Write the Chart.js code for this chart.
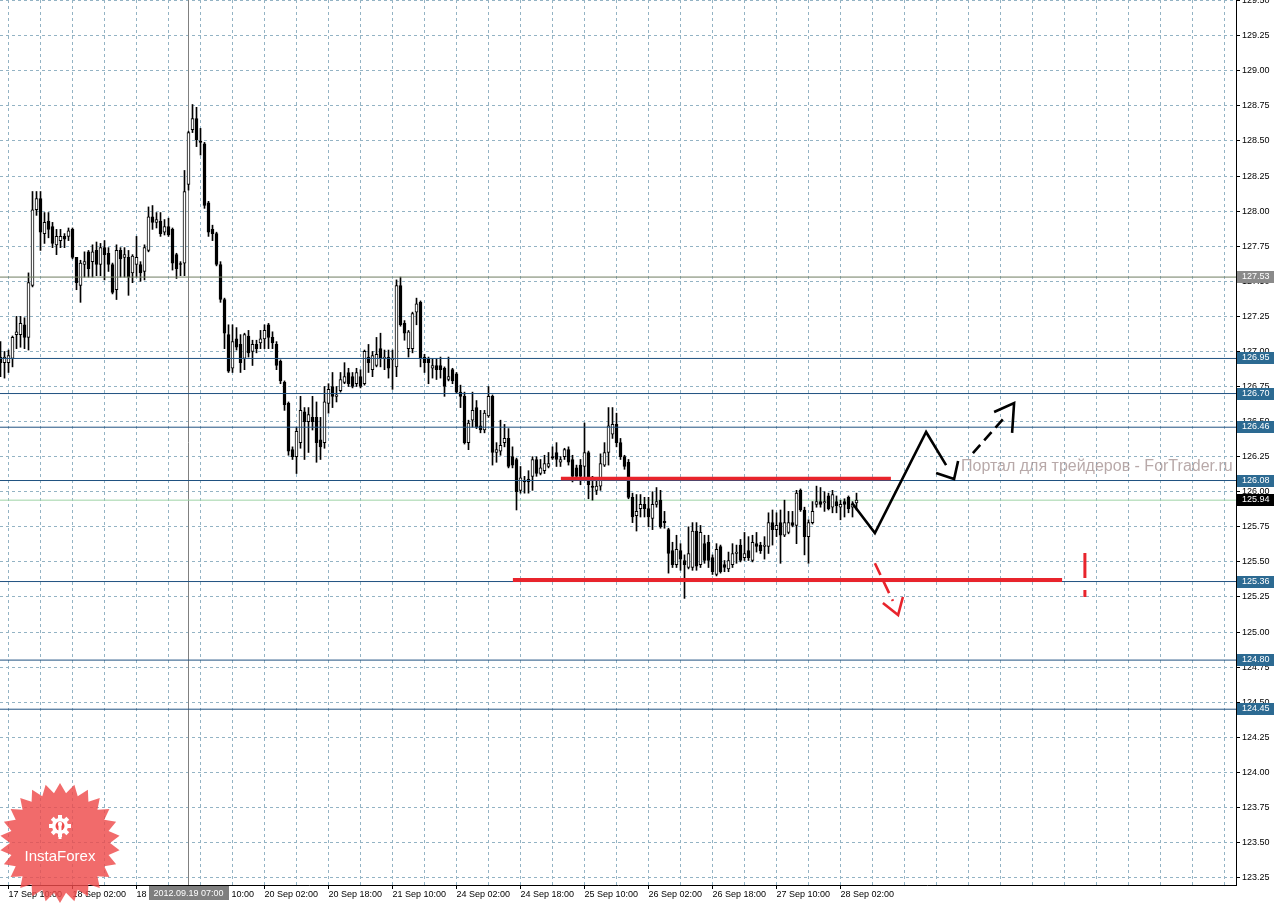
<!DOCTYPE html>
<html><head><meta charset="utf-8">
<script src="https://cdn.jsdelivr.net/npm/chart.js@4.4.1/dist/chart.umd.min.js"></script>
<style>html,body{margin:0;padding:0;background:#fff;overflow:hidden}canvas{display:block}</style>
</head><body>
<canvas id="c" width="1277" height="903"></canvas>
<script>
// ---- H1 candles (GBPJPY), bar index of first candle relative to "17 Sep 10:00"
const firstBar = -2;
const opens = [
126.96,126.92,126.92,126.95,127.12,127.12,127.19,127.10,127.47,128.01,
128.09,127.84,127.93,127.89,127.76,127.79,127.82,127.82,127.87,127.67,
127.47,127.62,127.71,127.64,127.72,127.62,127.74,127.70,127.62,127.44,
127.72,127.67,127.67,127.56,127.62,127.62,127.57,127.72,127.96,127.92,
127.93,127.85,127.89,127.87,127.69,127.625,127.63,128.19,128.58,128.66,
128.50,128.48,128.06,127.87,127.84,127.62,127.37,127.12,126.88,127.09,
127.05,126.95,127.11,127.00,127.05,127.06,127.09,127.19,127.10,127.05,
126.93,126.78,126.63,126.30,126.25,126.35,126.57,126.50,126.53,126.53,
126.37,126.35,126.63,126.75,126.68,126.72,126.78,126.85,126.82,126.77,
126.82,126.77,126.96,126.87,126.90,127.02,126.95,126.96,126.94,126.89,
127.47,127.20,127.02,127.02,127.28,127.35,126.96,126.95,126.88,126.90,
126.90,126.88,126.80,126.87,126.84,126.71,126.68,126.35,126.51,126.60,
126.47,126.44,126.54,126.68,126.28,126.29,126.35,126.38,126.25,126.23,
126.01,126.08,126.09,126.11,126.23,126.13,126.15,126.18,126.25,126.28,
126.21,126.25,126.30,126.23,126.17,126.19,126.18,126.28,126.04,126.01,
126.04,126.19,126.28,126.41,126.48,126.35,126.25,126.21,125.96,125.83,
125.88,125.91,125.88,125.81,125.91,125.94,125.79,125.73,125.58,125.48,
125.58,125.51,125.46,125.46,125.72,125.48,125.63,125.64,125.53,125.41,
125.61,125.48,125.45,125.48,125.56,125.62,125.53,125.58,125.51,125.63,
125.62,125.61,125.61,125.78,125.73,125.78,125.69,125.71,125.78,125.76,
126.01,125.87,125.68,125.78,125.91,125.93,125.92,125.97,125.89,125.93,
125.89,125.93,125.96,125.89,125.92];
const highs = [
127.07,127.00,127.01,127.11,127.25,127.25,127.24,127.56,128.14,128.14,
128.14,127.99,127.99,127.92,127.87,127.87,127.84,127.88,127.88,127.67,
127.65,127.71,127.72,127.76,127.78,127.77,127.79,127.74,127.63,127.76,
127.74,127.74,127.72,127.69,127.82,127.64,127.76,128.03,128.04,127.99,
127.99,127.94,127.95,127.88,127.70,127.64,128.29,128.57,128.76,128.74,
128.59,128.49,128.07,127.90,127.85,127.64,127.38,127.19,127.19,127.17,
127.12,127.13,127.15,127.08,127.08,127.15,127.19,127.20,127.14,127.07,
126.94,126.79,126.64,126.32,126.46,126.68,126.60,126.60,126.68,126.64,
126.53,126.75,126.77,126.85,126.75,126.85,126.92,126.88,126.85,126.88,
126.87,127.01,127.05,127.00,127.10,127.13,127.01,127.01,127.01,127.51,
127.53,127.22,127.15,127.28,127.38,127.36,126.98,126.96,126.95,126.95,
126.96,126.89,126.96,126.88,126.85,126.76,126.71,126.51,126.71,126.65,
126.58,126.58,126.75,126.69,126.35,126.51,126.48,126.45,126.32,126.24,
126.18,126.11,126.15,126.25,126.25,126.23,126.26,126.28,126.32,126.35,
126.25,126.31,126.32,126.26,126.19,126.23,126.49,126.29,126.11,126.08,
126.27,126.35,126.60,126.60,126.56,126.38,126.26,126.23,125.99,125.98,
125.98,125.96,125.96,126.00,126.03,126.01,125.86,125.74,125.64,125.69,
125.63,125.55,125.75,125.78,125.78,125.76,125.69,125.69,125.55,125.63,
125.62,125.51,125.57,125.63,125.62,125.66,125.71,125.68,125.69,125.71,
125.64,125.68,125.85,125.87,125.85,125.87,125.94,125.86,125.86,126.01,
126.02,125.89,125.80,125.93,126.04,126.03,126.00,125.99,126.01,125.97,
125.94,125.95,125.97,125.93,125.99];
const lows = [
126.82,126.81,126.85,126.89,127.02,127.03,127.02,127.01,127.46,127.97,
127.72,127.77,127.81,127.74,127.69,127.74,127.74,127.79,127.66,127.44,
127.35,127.53,127.53,127.53,127.54,127.54,127.51,127.57,127.41,127.37,
127.53,127.53,127.40,127.49,127.53,127.50,127.51,127.71,127.87,127.88,
127.82,127.83,127.82,127.58,127.52,127.54,127.54,128.15,128.56,128.46,
128.40,128.02,127.82,127.79,127.61,127.35,127.02,126.85,126.85,127.01,
126.85,126.87,126.96,126.90,126.99,127.02,127.02,127.02,127.02,126.87,
126.77,126.58,126.26,126.23,126.13,126.31,126.23,126.28,126.44,126.21,
126.23,126.31,126.56,126.60,126.64,126.71,126.77,126.75,126.74,126.75,
126.74,126.76,126.85,126.82,126.89,126.89,126.87,126.81,126.73,126.82,
127.18,127.08,126.96,126.99,127.19,126.89,126.85,126.77,126.81,126.80,
126.81,126.68,126.79,126.77,126.70,126.60,126.34,126.30,126.46,126.45,
126.42,126.42,126.53,126.19,126.21,126.26,126.32,126.17,126.17,125.87,
125.99,125.99,125.99,126.01,126.11,126.12,126.13,126.17,126.23,126.18,
126.18,126.23,126.19,126.07,126.08,126.05,126.09,125.95,125.94,125.98,
126.01,126.18,126.19,126.38,126.32,126.23,126.16,125.95,125.78,125.72,
125.82,125.82,125.75,125.73,125.89,125.74,125.74,125.42,125.46,125.46,
125.44,125.24,125.45,125.44,125.44,125.46,125.49,125.46,125.41,125.40,
125.42,125.43,125.43,125.46,125.49,125.50,125.51,125.51,125.50,125.57,
125.56,125.52,125.56,125.62,125.68,125.49,125.68,125.70,125.75,125.63,
125.86,125.55,125.49,125.77,125.89,125.89,125.86,125.87,125.85,125.85,
125.80,125.82,125.85,125.82,125.87];
const closes = [
126.92,126.96,126.97,127.10,127.14,127.20,127.10,127.49,128.01,128.09,
127.85,127.92,127.87,127.77,127.82,127.82,127.80,127.86,127.67,127.49,
127.63,127.64,127.59,127.71,127.62,127.74,127.69,127.62,127.42,127.72,
127.66,127.69,127.53,127.68,127.67,127.56,127.74,127.96,127.92,127.94,
127.84,127.89,127.83,127.63,127.59,127.62,128.14,128.56,128.66,128.51,
128.49,128.04,127.85,127.84,127.62,127.37,127.13,126.86,127.07,127.03,
126.92,127.12,126.99,127.05,127.02,127.09,127.15,127.10,127.06,126.90,
126.79,126.62,126.29,126.25,126.43,126.58,126.50,126.55,126.50,126.35,
126.32,126.64,126.73,126.68,126.69,126.80,126.82,126.77,126.75,126.85,
126.75,127.00,126.92,126.97,126.98,126.95,126.96,126.88,126.95,127.47,
127.19,127.13,127.14,127.27,127.34,126.95,126.92,126.92,126.90,126.87,
126.87,126.75,126.82,126.79,126.71,126.68,126.35,126.49,126.58,126.46,
126.44,126.56,126.68,126.28,126.30,126.33,126.38,126.18,126.19,126.00,
126.10,126.07,126.07,126.23,126.13,126.17,126.20,126.20,126.24,126.23,
126.23,126.30,126.21,126.11,126.11,126.11,126.28,126.05,126.03,126.04,
126.20,126.28,126.47,126.48,126.35,126.25,126.18,125.96,125.82,125.86,
125.91,125.88,125.82,125.91,125.93,125.75,125.78,125.56,125.48,125.59,
125.52,125.48,125.56,125.72,125.47,125.71,125.51,125.51,125.43,125.59,
125.43,125.46,125.51,125.56,125.57,125.51,125.56,125.53,125.64,125.61,
125.58,125.62,125.78,125.73,125.76,125.69,125.78,125.78,125.76,125.99,
125.87,125.68,125.78,125.86,125.93,125.91,125.93,125.88,125.98,125.90,
125.91,125.91,125.88,125.91,125.94];

// ---- axis labels
const timeLabels = ["17 Sep 10:00","18 Sep 02:00","18 Sep 18:00","19 Sep 10:00","20 Sep 02:00","20 Sep 18:00",
  "21 Sep 10:00","24 Sep 02:00","24 Sep 18:00","25 Sep 10:00","26 Sep 02:00","26 Sep 18:00","27 Sep 10:00","28 Sep 02:00"];
const barsPerLabel = 16;
const priceTicks = [123.25,123.50,123.75,124.00,124.25,124.50,124.75,125.00,125.25,125.50,125.75,126.00,126.25,
  126.50,126.75,127.00,127.25,127.50,127.75,128.00,128.25,128.50,128.75,129.00,129.25,129.50];

// ---- horizontal levels
const blueLevels = [126.95,126.70,126.46,126.08,125.36,124.80,124.45];
const grayLevel = 127.53;
const bidPrice = 125.94;
const crosshairBar = 45;
const crosshairLabel = "2012.09.19 07:00";

// ---- hand drawn marks (x in bars, y in price)
const redUpperX = [138.1, 220.6], redUpperY = [126.094, 126.094];
const redLowerX = [126.1, 263.4], redLowerY = [125.371, 125.371];
const zigX = [210.9, 216.6, 229.4, 234.4], zigY = [125.92, 125.706, 126.426, 126.19];
const zigHeadX = [231.9, 236.4, 237.4], zigHeadY = [126.134, 126.091, 126.219];
const upDashX = [241.1, 248.9], upDashY = [126.276, 126.526];
const upHeadX = [246.4, 251.4, 250.9], upHeadY = [126.568, 126.632, 126.419];
const downDashX = [216.6, 221.1], downDashY = [125.49, 125.221];
const downHeadX = [218.6, 222.4, 223.6], downHeadY = [125.207, 125.121, 125.25];
const bangX = [269.1, 269.1], bangY = [125.563, 125.385];
const bangDotX = [269.1, 269.1], bangDotY = [125.30, 125.25];

const xMin = -2.125, xMax = 306.875, yMin = 123.197, yMax = 129.505;

Chart.defaults.font.family = '"Liberation Sans", Arial, sans-serif';

const barX = opens.map((_, k) => firstBar + k);
const wickData = barX.map((x, k) => ({x, y: [lows[k], highs[k]]}));
const bodyData = barX.map((x, k) => ({x, y: [opens[k], closes[k]]}));
const bodyFill = barX.map((_, k) => closes[k] >= opens[k] ? '#ffffff' : '#000000');

function seg(xs, ys, color, width, dash, order) {
  return {type: 'line', data: xs.map((x, k) => ({x, y: ys[k]})), borderColor: color, borderWidth: width,
    borderDash: dash || [], pointRadius: 0, fill: false, tension: 0, order: order, borderCapStyle: 'butt',
    borderJoinStyle: 'miter'};
}

const datasets = [];
datasets.push(seg([crosshairBar, crosshairBar], [yMin, yMax], '#808080', 1, null, 6));
datasets.push(seg([xMin, xMax], [bidPrice, bidPrice], '#9fd3a6', 1, null, 5));
datasets.push({type: 'bar', data: wickData, backgroundColor: '#000', borderWidth: 0, barThickness: 1,
  grouped: false, order: 4});
datasets.push({type: 'bar', data: bodyData, backgroundColor: bodyFill, borderColor: '#000', borderWidth: 1,
  borderSkipped: false, barThickness: 3, minBarLength: 1, grouped: false, order: 3});
datasets.push(seg([xMin, xMax], [grayLevel, grayLevel], '#6f7d62', 1, null, 2));
blueLevels.forEach(p => datasets.push(seg([xMin, xMax], [p, p], '#1f5180', 1, null, 2)));
datasets.push(seg(redUpperX, redUpperY, '#e8242c', 3.5, null, 1));
datasets.push(seg(redLowerX, redLowerY, '#e8242c', 4, null, 1));
datasets.push(seg(zigX, zigY, '#000', 2.6, null, 0));
datasets.push(seg(zigHeadX, zigHeadY, '#000', 2.6, null, 0));
datasets.push(seg(upDashX, upDashY, '#000', 2.6, [11, 6], 0));
datasets.push(seg(upHeadX, upHeadY, '#000', 2.6, null, 0));
datasets.push(seg(downDashX, downDashY, '#e8242c', 2.6, [13, 7], 0));
datasets.push(seg(downHeadX, downHeadY, '#e8242c', 2.6, null, 0));
datasets.push(seg(bangX, bangY, '#e8242c', 3, null, 0));
datasets.push(seg(bangDotX, bangDotY, '#e8242c', 3, null, 0));

const gridColor = '#93b3c4';
const gridValues = [];
for (let v = 0; v <= 304; v += 8) gridValues.push(v);
function labelFor(v) {
  if (v % barsPerLabel !== 0) return '';
  return timeLabels[v / barsPerLabel] || '';
}
function noPad(ax) { ax.paddingTop = 0; ax.paddingBottom = 0; ax.paddingLeft = 0; ax.paddingRight = 0; }

const overlay = {
  id: 'overlay',
  beforeDatasetsDraw(chart) {
    const ctx = chart.ctx;
    ctx.save();
    ctx.font = '16px "Liberation Sans", Arial, sans-serif';
    ctx.fillStyle = 'rgba(160,140,140,0.75)';
    ctx.textBaseline = 'middle';
    ctx.textAlign = 'left';
    ctx.beginPath();
    ctx.rect(chart.chartArea.left, chart.chartArea.top, chart.chartArea.right - chart.chartArea.left, chart.chartArea.bottom - chart.chartArea.top);
    ctx.clip();
    ctx.fillText('Портал для трейдеров - ForTrader.ru', 961, chart.scales.y.getPixelForValue(126.18));
    ctx.restore();
  },
  afterDraw(chart) {
    const ctx = chart.ctx, ys = chart.scales.y, xs = chart.scales.x;
    ctx.save();
    ctx.font = '9px "Liberation Sans", Arial, sans-serif';
    ctx.textBaseline = 'middle';
    ctx.textAlign = 'left';
    const boxes = [[grayLevel, '#8a8a8a']].concat(blueLevels.map(p => [p, '#2c6a92'])).concat([[bidPrice, '#000000']]);
    boxes.forEach(([p, col]) => {
      const y = Math.round(ys.getPixelForValue(p));
      ctx.fillStyle = col;
      ctx.fillRect(1237, y - 6, 37, 12);
      ctx.fillStyle = '#fff';
      ctx.fillText(p.toFixed(2), 1242, y);
    });
    // crosshair time label
    const cx = xs.getPixelForValue(crosshairBar);
    ctx.fillStyle = '#7f7f7f';
    ctx.fillRect(Math.round(cx - 40), 886, 80, 14);
    ctx.fillStyle = '#fff';
    ctx.font = '9px "Liberation Sans", Arial, sans-serif';
    ctx.textAlign = 'center';
    ctx.fillText(crosshairLabel, cx, 893.5);
    // InstaForex badge
    const bx = 60, by = 843, n = 26, ro = 60, ri = 50;
    ctx.beginPath();
    for (let k = 0; k < n * 2; k++) {
      const r = k % 2 === 0 ? ro : ri;
      const a = -Math.PI / 2 + k * Math.PI / n;
      const px = bx + r * Math.cos(a), py = by + r * Math.sin(a);
      if (k === 0) ctx.moveTo(px, py); else ctx.lineTo(px, py);
    }
    ctx.closePath();
    ctx.fillStyle = 'rgba(238,74,74,0.82)';
    ctx.fill();
    // gear icon
    ctx.fillStyle = '#fff';
    const gx = 60, gy = 826;
    for (let k = 0; k < 8; k++) {
      ctx.save();
      ctx.translate(gx, gy);
      ctx.rotate(k * Math.PI / 4);
      ctx.fillRect(-2, -11, 4, 5);
      ctx.restore();
    }
    ctx.beginPath();
    ctx.arc(gx, gy, 8, 0, Math.PI * 2);
    ctx.fill();
    ctx.fillStyle = 'rgba(238,74,74,1)';
    ctx.beginPath();
    ctx.arc(gx, gy, 4.5, 0, Math.PI * 2);
    ctx.fill();
    ctx.fillStyle = '#fff';
    ctx.fillRect(gx - 1.5, gy - 2, 3, 15);
    ctx.beginPath();
    ctx.arc(gx, gy - 2, 2.2, 0, Math.PI * 2);
    ctx.fill();
    ctx.font = '15px "Liberation Sans", Arial, sans-serif';
    ctx.textAlign = 'center';
    ctx.fillText('InstaForex', 60, 857);
    ctx.restore();
  }
};

new Chart(document.getElementById('c'), {
  type: 'bar',
  data: {datasets},
  options: {
    responsive: false, animation: false, events: [], devicePixelRatio: 1,
    layout: {padding: 0},
    plugins: {legend: {display: false}, tooltip: {enabled: false}},
    scales: {
      x: {
        type: 'linear', position: 'bottom', min: xMin, max: xMax, offset: false,
        afterBuildTicks: ax => { ax.ticks = gridValues.map(v => ({value: v})); },
        afterFit: ax => { ax.height = 18; noPad(ax); },
        grid: {color: gridColor, lineWidth: 1, drawTicks: true, tickLength: 4, offset: false,
          tickColor: c => (c.tick && labelFor(c.tick.value)) ? '#000' : 'rgba(0,0,0,0)'},
        border: {display: true, color: '#000', width: 1, dash: [3, 3]},
        ticks: {autoSkip: false, maxRotation: 0, minRotation: 0, align: 'start', padding: 0, color: '#000',
          font: {size: 9}, callback: v => labelFor(v)}
      },
      y: {
        type: 'linear', position: 'right', min: yMin, max: yMax,
        afterBuildTicks: ax => { ax.ticks = priceTicks.map(v => ({value: v})); },
        afterFit: ax => { ax.width = 41; noPad(ax); },
        grid: {color: gridColor, lineWidth: 1, drawTicks: true, tickLength: 4, tickColor: '#000'},
        border: {display: true, color: '#000', width: 1, dash: [3, 3]},
        ticks: {padding: 2, color: '#000', font: {size: 9}, crossAlign: 'near', callback: v => v.toFixed(2)}
      }
    }
  },
  plugins: [overlay]
});
</script>
</body></html>
